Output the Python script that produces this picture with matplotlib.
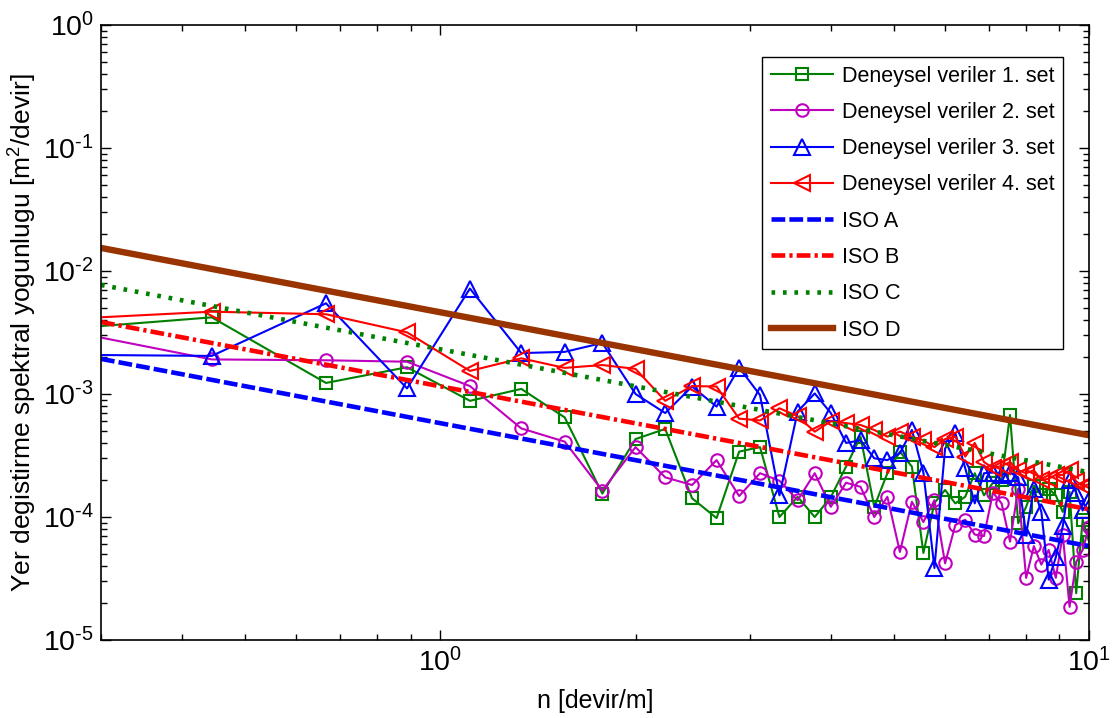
import numpy as np
import matplotlib
matplotlib.use("Agg")
import matplotlib.pyplot as plt
from matplotlib.ticker import LogLocator, NullFormatter, FuncFormatter

plt.rcParams['font.family'] = ['Liberation Sans', 'DejaVu Sans']
plt.rcParams['mathtext.fontset'] = 'custom'
plt.rcParams['mathtext.rm'] = 'Liberation Sans'
plt.rcParams['mathtext.it'] = 'Liberation Sans:italic'

# spatial frequency n = k / 4.5  (k = 1..45)
n = np.arange(1, 46) / 4.5

set1 = [3.15e-3, 4.2e-3, 1.23e-3, 1.65e-3, 8.8e-4, 1.1e-3, 6.45e-4, 1.55e-4, 4.3e-4, 5.2e-4,
        1.42e-4, 9.8e-5, 3.4e-4, 3.7e-4, 1.0e-4, 1.46e-4, 1.0e-4, 1.45e-4, 2.57e-4, 4.5e-4,
        1.21e-4, 2.27e-4, 3.4e-4, 2.57e-4, 5.1e-5, 1.3e-4, 1.66e-4, 1.29e-4, 1.46e-4, 2.27e-4,
        1.5e-4, 1.9e-4, 2.0e-4, 6.75e-4, 8.9e-5, 1.21e-4, 1.8e-4, 1.5e-4, 1.7e-4, 1.5e-4,
        1.1e-4, 1.6e-4, 2.4e-5, 9.5e-5, 6.3e-5]
set2 = [3.93e-3, 1.91e-3, 1.88e-3, 1.83e-3, 1.16e-3, 5.25e-4, 4.1e-4, 1.64e-4, 3.7e-4, 2.1e-4,
        1.82e-4, 2.9e-4, 1.48e-4, 2.27e-4, 1.97e-4, 1.37e-4, 2.27e-4, 1.21e-4, 1.9e-4, 1.76e-4,
        1.0e-4, 1.46e-4, 5.2e-5, 1.33e-4, 9.1e-5, 1.37e-4, 4.2e-5, 8.6e-5, 9.5e-5, 7.2e-5,
        7.0e-5, 1.58e-4, 1.29e-4, 6.3e-5, 1.7e-4, 3.2e-5, 5.8e-5, 4.1e-5, 5.4e-5, 3.2e-5,
        7.2e-5, 1.86e-5, 4.3e-5, 5.4e-5, 8.3e-5]
set3 = [2.1e-3, 2.04e-3, 5.46e-3, 1.11e-3, 7.2e-3, 2.15e-3, 2.2e-3, 2.6e-3, 1.0e-3, 7.0e-4,
        1.15e-3, 7.9e-4, 1.64e-3, 9.8e-4, 1.5e-4, 7.2e-4, 1.01e-3, 7.0e-4, 4.0e-4, 4.2e-4,
        3.0e-4, 2.9e-4, 3.3e-4, 5.1e-4, 2.3e-4, 3.85e-5, 3.6e-4, 4.8e-4, 2.5e-4, 1.29e-4,
        2.27e-4, 2.3e-4, 2.2e-4, 2.3e-4, 2.1e-4, 7.2e-5, 1.7e-4, 1.1e-4, 3.1e-5, 4.7e-5,
        8.4e-5, 2.0e-4, 1.58e-4, 1.13e-4, 1.37e-4]
set4 = [3.88e-3, 4.67e-3, 4.45e-3, 3.17e-3, 1.54e-3, 1.95e-3, 1.63e-3, 1.72e-3, 1.6e-3, 8.8e-4,
        1.16e-3, 1.15e-3, 6.3e-4, 6.1e-4, 7.65e-4, 6.6e-4, 4.94e-4, 6.0e-4, 5.8e-4, 5.6e-4,
        5.1e-4, 4.5e-4, 4.95e-4, 4.5e-4, 4.2e-4, 3.7e-4, 4.3e-4, 4.5e-4, 3.1e-4, 4.0e-4,
        2.8e-4, 2.5e-4, 2.6e-4, 2.8e-4, 2.4e-4, 2.27e-4, 2.4e-4, 2.0e-4, 2.05e-4, 2.2e-4,
        2.2e-4, 2.4e-4, 1.95e-4, 1.78e-4, 1.85e-4]

# ISO class lines (end points at n = 0.3 and n = 10)
iso_n = [0.3, 10.0]
iso_A = [1.93e-3, 5.8e-5]
iso_B = [3.85e-3, 1.155e-4]
iso_C = [7.7e-3, 2.31e-4]
iso_D = [1.54e-2, 4.62e-4]

labels = ['Deneysel veriler 1. set', 'Deneysel veriler 2. set',
          'Deneysel veriler 3. set', 'Deneysel veriler 4. set',
          'ISO A', 'ISO B', 'ISO C', 'ISO D']

fig = plt.figure(figsize=(11.12, 7.18), dpi=100)
ax = fig.add_axes([101/1112, 78/718, 988/1112, 615/718])

ms = 9
lw = 1.5
mew = 1.5
ax.plot(n, set1, '-s', color='#008000', ms=ms, lw=lw, mew=mew, mfc='none', label=labels[0])
ax.plot(n, set2, '-o', color='#bf00bf', ms=ms, lw=lw, mew=mew, mfc='none', label=labels[1])
ax.plot(n, set3, '-^', color='#0000ff', ms=11, lw=lw, mew=mew, mfc='none', label=labels[2])
ax.plot(n, set4, '-<', color='#ff0000', ms=11, lw=lw, mew=mew, mfc='none', label=labels[3])

ilw = 3.3
ax.plot(iso_n, iso_A, color='#0000ff', lw=ilw, linestyle=(0, (3.0, 0.9)), label=labels[4])
ax.plot(iso_n, iso_B, color='#ff0000', lw=ilw, linestyle=(0, (3.0, 0.9, 0.7, 0.9)), label=labels[5])
ax.plot(iso_n, iso_C, color='#008000', lw=ilw, linestyle=(0, (0.8, 1.7)), label=labels[6])
ax.plot(iso_n, iso_D, color='#993300', lw=4.6, linestyle='-', label=labels[7])

ax.set_xscale('log')
ax.set_yscale('log')
ax.set_xlim(0.3, 10)
ax.set_ylim(1e-5, 1)


def pow10(v, pos):
    e = int(round(np.log10(v)))
    if e < 0:
        return r'$\mathdefault{10^{\text{-}%d}}$' % (-e)
    return r'$\mathdefault{10^{%d}}$' % e


ax.xaxis.set_major_locator(LogLocator(base=10, numticks=10))
ax.xaxis.set_minor_locator(LogLocator(base=10, subs=np.arange(2, 10), numticks=20))
ax.yaxis.set_major_locator(LogLocator(base=10, numticks=10))
ax.yaxis.set_minor_locator(LogLocator(base=10, subs=np.arange(2, 10), numticks=20))
ax.xaxis.set_major_formatter(FuncFormatter(pow10))
ax.yaxis.set_major_formatter(FuncFormatter(pow10))
ax.xaxis.set_minor_formatter(NullFormatter())
ax.yaxis.set_minor_formatter(NullFormatter())

ax.tick_params(which='both', direction='in', top=True, right=True, labelsize=20.5, width=1.0)
ax.tick_params(which='major', length=7)
ax.tick_params(which='minor', length=4)
ax.tick_params(axis='x', which='major', pad=6)
ax.tick_params(axis='y', which='major', pad=5)
for s in ax.spines.values():
    s.set_linewidth(1.2)

ax.set_xlabel('n [devir/m]', fontsize=18, labelpad=8)
ax.set_ylabel('Yer degistirme spektral yogunlugu [m$^2$/devir]', fontsize=19, labelpad=3)

leg = ax.legend(loc='upper right', bbox_to_anchor=((1063-101)/988, (640-57)/615),
                borderaxespad=0, fontsize=15.5, handlelength=2.9, handletextpad=0.4,
                labelspacing=0.71, fancybox=False, framealpha=1, edgecolor='black',
                borderpad=0.4)
leg.get_frame().set_linewidth(1.0)

fig.savefig('out.png', dpi=100)
